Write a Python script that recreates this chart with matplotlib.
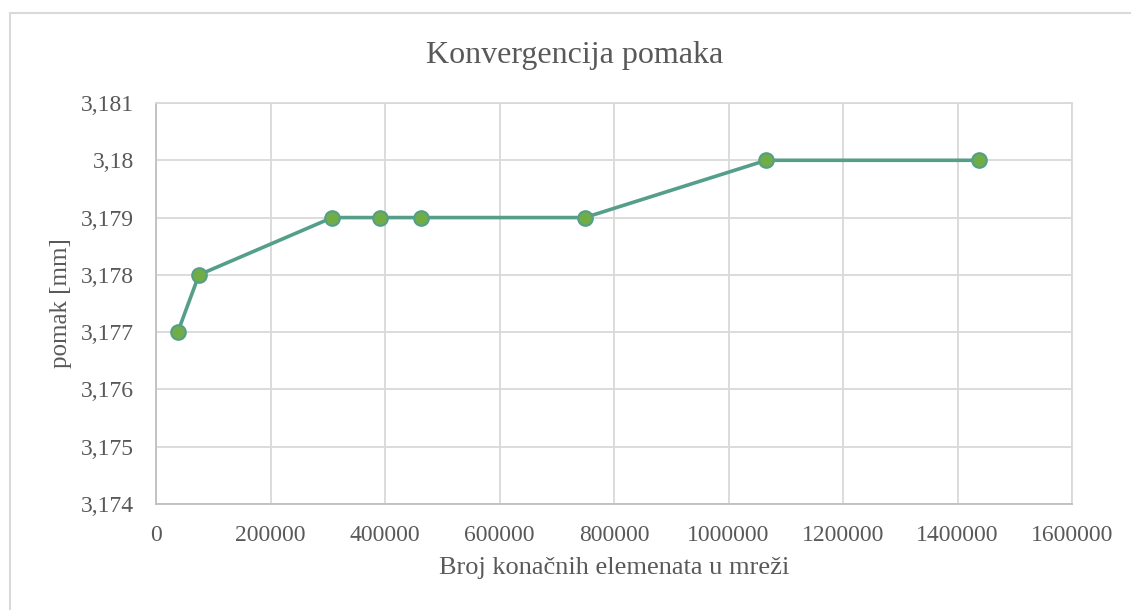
import matplotlib
matplotlib.use('Agg')
import matplotlib.pyplot as plt
from matplotlib.patches import Rectangle
from matplotlib.ticker import FuncFormatter

elementi = [38000, 75000, 308000, 391000, 463000, 749000, 1066000, 1437000]
pomak = [3.177, 3.178, 3.179, 3.179, 3.179, 3.179, 3.180, 3.180]

x_ticks = [0, 200000, 400000, 600000, 800000, 1000000, 1200000, 1400000, 1600000]
y_ticks = [3.174, 3.175, 3.176, 3.177, 3.178, 3.179, 3.180, 3.181]

plt.rcParams['font.family'] = ['Liberation Serif', 'DejaVu Serif']
txt = '#595959'
grid = '#d9d9d9'

W, H = 1131, 610
fig = plt.figure(figsize=(W / 100, H / 100), dpi=100)

# chart frame (only top/left edge visible in the reference)
fig.patches.append(Rectangle((10 / W, -0.1), 1.2, 1 - 13 / H + 0.1, transform=fig.transFigure,
                             fill=False, edgecolor='#d9d9d9', linewidth=1.5))

ax = fig.add_axes([156 / W, 1 - 504 / H, (1072 - 156) / W, (504 - 103) / H])

ax.plot(elementi, pomak, color='#549e8a', linewidth=2.6, marker='o', markersize=10.5,
        markerfacecolor='#70ad47', markeredgecolor='#549e8a', markeredgewidth=1.5, zorder=3)

ax.set_xlim(0, 1600000)
ax.set_ylim(3.174, 3.181)
ax.set_xticks(x_ticks)
ax.set_yticks(y_ticks)
ax.xaxis.set_major_formatter(FuncFormatter(lambda v, p: '%d' % round(v)))
ax.yaxis.set_major_formatter(FuncFormatter(lambda v, p: ('%g' % round(v, 3)).replace('.', ',')))

ax.grid(True, color=grid, linewidth=1.3)
ax.set_axisbelow(True)
for s in ax.spines.values():
    s.set_color(grid)
    s.set_linewidth(1.3)
ax.spines['bottom'].set_color('#bfbfbf')
ax.spines['left'].set_color('#bfbfbf')
ax.tick_params(length=0, labelsize=17, colors=txt)
ax.tick_params(axis='x', pad=15)
ax.tick_params(axis='y', pad=16)

# title is centred on the whole chart, not on the plot area
fig.text(575 / W, 1 - 55 / H, 'Konvergencija pomaka', fontsize=23, color=txt,
         ha='center', va='center')
ax.set_xlabel('Broj konačnih elemenata u mreži', fontsize=19, color=txt, labelpad=8)
ax.set_ylabel('pomak [mm]', fontsize=18, color=txt, labelpad=6)

fig.savefig('out.png', dpi=100)
